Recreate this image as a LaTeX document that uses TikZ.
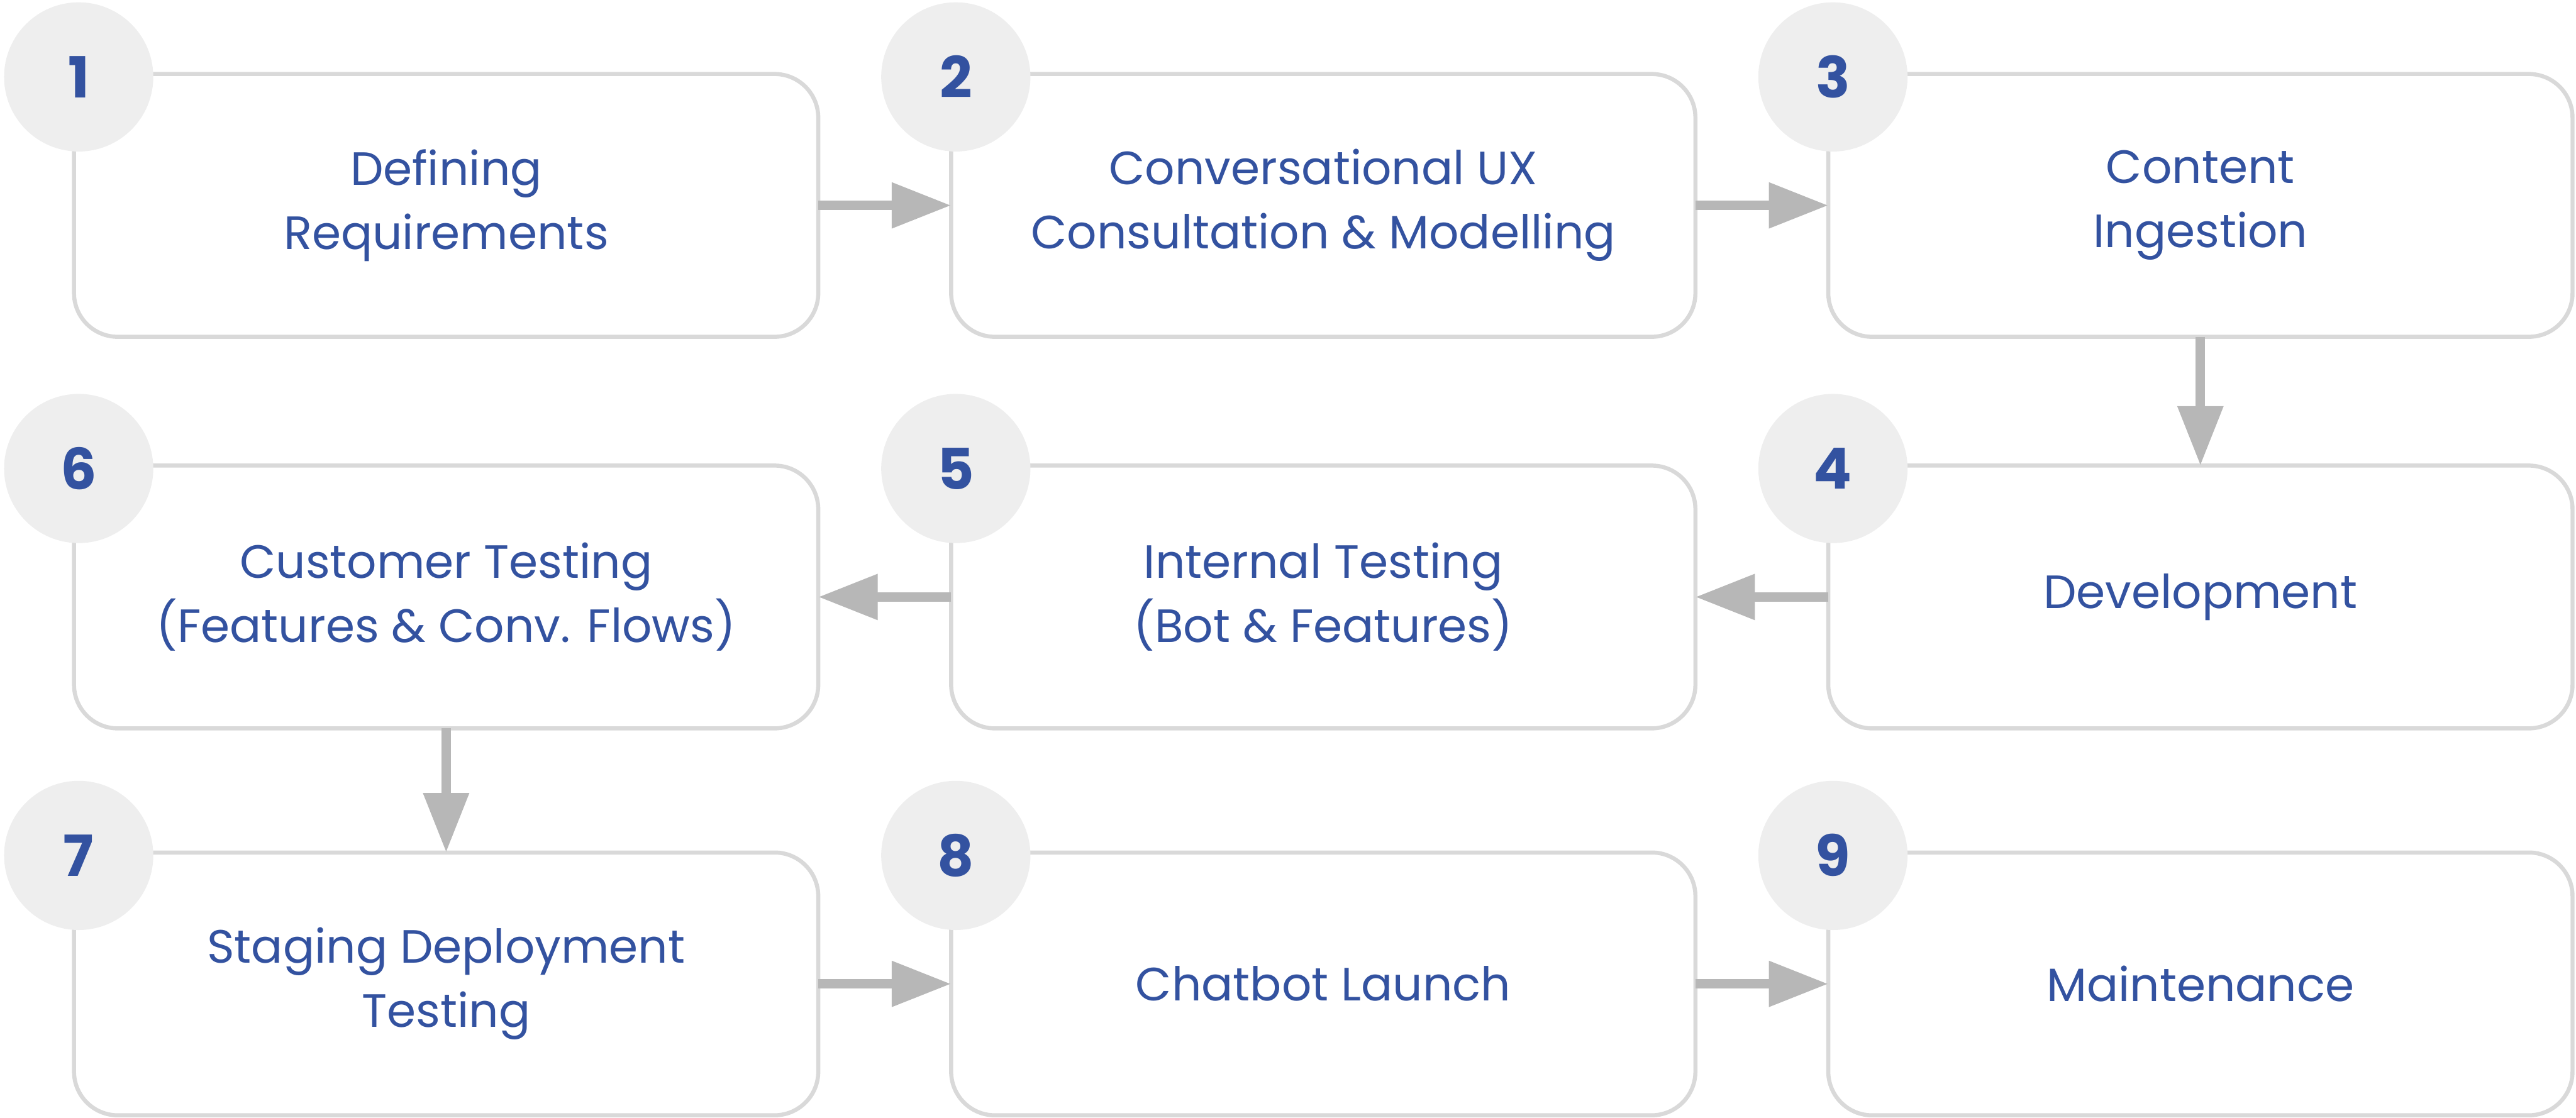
\documentclass[tikz,border=0pt]{standalone}
\usepackage{fontspec}
\setmainfont{Poppins}
\usetikzlibrary{arrows.meta}

\definecolor{stepblue}{RGB}{51,82,160}
\definecolor{boxgray}{RGB}{217,217,217}
\definecolor{badgegray}{RGB}{238,238,238}
\definecolor{arrowgray}{RGB}{183,183,183}

\tikzset{
  stepbox/.style={draw=boxgray, line width=0.07cm, rounded corners=0.75cm, fill=white,
    minimum width=12.77cm, minimum height=4.51cm, outer sep=0pt, align=center,
    text=stepblue, font=\fontsize{22.8}{31.3}\selectfont},
  badge/.style={circle, fill=badgegray, minimum size=2.56cm, inner sep=0pt,
    text=stepblue, font=\fontsize{27.7}{30}\selectfont\bfseries},
  flow/.style={arrowgray, line width=0.16cm, -{Triangle[length=1.02cm,width=0.75cm]}}
}

\begin{document}
\begin{tikzpicture}
    \useasboundingbox (0,0) rectangle (44.2,-19.18);

    % Top row
    \node[stepbox] (s1) at (7.655,-3.525) {Defining\\Requirements};
    \node[stepbox] (s2) at (22.705,-3.525) {Conversational UX\\Consultation \& Modelling};
    \node[stepbox] (s3) at (37.755,-3.525) {Content\\Ingestion};

    % Middle row, running right to left
    \node[stepbox] (s4) at (37.755,-10.245) {Development};
    \node[stepbox] (s5) at (22.705,-10.245) {Internal Testing\\(Bot \& Features)};
    \node[stepbox] (s6) at (7.655,-10.245) {Customer Testing\\(Features \& Conv. Flows)};

    % Bottom row
    \node[stepbox] (s7) at (7.655,-16.885) {Staging Deployment\\Testing};
    \node[stepbox] (s8) at (22.705,-16.885) {Chatbot Launch};
    \node[stepbox] (s9) at (37.755,-16.885) {Maintenance};

    % Number badges on the corners
    \node[badge] (b1) at ([xshift=0.08cm,yshift=-0.05cm]s1.north west) {1};
    \node[badge] (b2) at ([xshift=0.08cm,yshift=-0.05cm]s2.north west) {2};
    \node[badge] (b3) at ([xshift=0.08cm,yshift=-0.05cm]s3.north west) {3};
    \node[badge] (b4) at ([xshift=0.08cm,yshift=-0.05cm]s4.north west) {4};
    \node[badge] (b5) at ([xshift=0.08cm,yshift=-0.05cm]s5.north west) {5};
    \node[badge] (b6) at ([xshift=0.08cm,yshift=-0.05cm]s6.north west) {6};
    \node[badge] (b7) at ([xshift=0.08cm,yshift=-0.05cm]s7.north west) {7};
    \node[badge] (b8) at ([xshift=0.08cm,yshift=-0.05cm]s8.north west) {8};
    \node[badge] (b9) at ([xshift=0.08cm,yshift=-0.05cm]s9.north west) {9};

    % Arrows between steps
    \draw[flow] (s1) -- (s2);
    \draw[flow] (s2) -- (s3);
    \draw[flow] (s3) -- (s4);
    \draw[flow] (s4) -- (s5);
    \draw[flow] (s5) -- (s6);
    \draw[flow] (s6) -- (s7);
    \draw[flow] (s7) -- (s8);
    \draw[flow] (s8) -- (s9);
\end{tikzpicture}
\end{document}
